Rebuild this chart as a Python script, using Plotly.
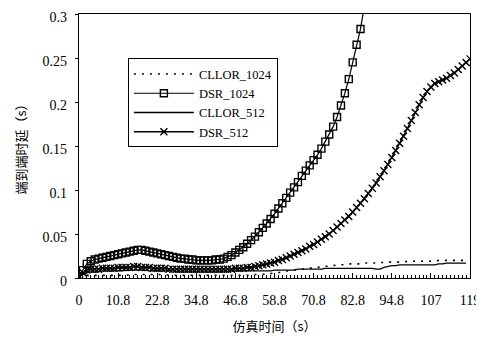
import plotly.graph_objects as go

# ---- data ----
tick_labels = ["0", "10.8", "22.8", "34.8", "46.8", "58.8", "70.8", "82.8", "94.8", "107", "119"]
tick_positions = [0, 10, 20, 30, 40, 50, 60, 70, 80, 90, 100]
y_ticks = [0, 0.05, 0.1, 0.15, 0.2, 0.25, 0.3]
y_tick_labels = ["0", "0.05", "0.1", "0.15", "0.2", "0.25", "0.3"]

dsr_1024 = [0.002, 0.009, 0.016, 0.019, 0.021, 0.022, 0.023, 0.024, 0.025, 0.026,
            0.027, 0.028, 0.029, 0.030, 0.031, 0.032, 0.032, 0.031, 0.030, 0.029,
            0.028, 0.027, 0.026, 0.025, 0.024, 0.023, 0.022, 0.022, 0.021, 0.021,
            0.020, 0.020, 0.020, 0.020, 0.020, 0.021, 0.021, 0.022, 0.024, 0.026,
            0.029, 0.032, 0.035, 0.039, 0.043, 0.047, 0.052, 0.057, 0.062, 0.067,
            0.073, 0.079, 0.085, 0.091, 0.097, 0.103, 0.109, 0.116, 0.122, 0.128,
            0.134, 0.140, 0.147, 0.155, 0.163, 0.172, 0.183, 0.196, 0.210, 0.226,
            0.245, 0.265, 0.283, 0.310]

dsr_512 = [0.002, 0.006, 0.009, 0.010, 0.010, 0.010, 0.011, 0.011, 0.011, 0.011,
           0.012, 0.012, 0.012, 0.012, 0.013, 0.013, 0.012, 0.012, 0.012, 0.011,
           0.011, 0.011, 0.011, 0.010, 0.010, 0.010, 0.010, 0.010, 0.010, 0.010,
           0.010, 0.010, 0.010, 0.010, 0.010, 0.010, 0.010, 0.010, 0.010, 0.010,
           0.011, 0.011, 0.011, 0.012, 0.012, 0.013, 0.014, 0.015, 0.016, 0.017,
           0.018, 0.020, 0.021, 0.023, 0.025, 0.027, 0.029, 0.031, 0.033, 0.036,
           0.038, 0.041, 0.044, 0.047, 0.050, 0.054, 0.058, 0.062, 0.066, 0.070,
           0.075, 0.080, 0.085, 0.090, 0.096, 0.102, 0.108, 0.115, 0.122, 0.129,
           0.137, 0.145, 0.153, 0.161, 0.170, 0.179, 0.188, 0.197, 0.205, 0.212,
           0.217, 0.221, 0.223, 0.225, 0.227, 0.230, 0.233, 0.237, 0.241, 0.245,
           0.249]

cllor_512 = [0.002, 0.004, 0.006, 0.007, 0.007, 0.007, 0.008, 0.008, 0.008, 0.008,
             0.008, 0.008, 0.009, 0.009, 0.009, 0.009, 0.009, 0.009, 0.008, 0.008,
             0.008, 0.008, 0.008, 0.008, 0.008, 0.007, 0.007, 0.007, 0.007, 0.007,
             0.007, 0.007, 0.007, 0.007, 0.007, 0.007, 0.007, 0.007, 0.007, 0.008,
             0.008, 0.008, 0.008, 0.008, 0.008, 0.008, 0.008, 0.008, 0.008, 0.008,
             0.009, 0.009, 0.009, 0.009, 0.009, 0.009, 0.010, 0.010, 0.010, 0.010,
             0.010, 0.010, 0.010, 0.011, 0.011, 0.011, 0.011, 0.011, 0.011, 0.011,
             0.011, 0.011, 0.011, 0.011, 0.011, 0.011, 0.010, 0.010, 0.012, 0.013,
             0.014, 0.014, 0.015, 0.015, 0.015, 0.015, 0.015, 0.015, 0.015, 0.015,
             0.015, 0.015, 0.016, 0.016, 0.017, 0.017, 0.017, 0.017, 0.017, 0.017]

cllor_1024 = [0.001, 0.002, 0.003, 0.003, 0.003, 0.003, 0.003, 0.003, 0.003, 0.003,
              0.003, 0.003, 0.003, 0.004, 0.004, 0.004, 0.004, 0.004, 0.004, 0.004,
              0.004, 0.004, 0.004, 0.003, 0.003, 0.003, 0.003, 0.003, 0.003, 0.003,
              0.003, 0.003, 0.003, 0.003, 0.003, 0.003, 0.003, 0.003, 0.003, 0.003,
              0.003, 0.003, 0.003, 0.003, 0.003, 0.004, 0.004, 0.004, 0.005, 0.005,
              0.006, 0.006, 0.007, 0.008, 0.008, 0.009, 0.010, 0.010, 0.011, 0.011,
              0.012, 0.012, 0.013, 0.013, 0.014, 0.014, 0.015, 0.015, 0.015, 0.016,
              0.016, 0.016, 0.016, 0.017, 0.017, 0.017, 0.017, 0.017, 0.018, 0.018,
              0.018, 0.018, 0.018, 0.018, 0.019, 0.019, 0.019, 0.019, 0.019, 0.019,
              0.019, 0.019, 0.020, 0.020, 0.020, 0.020, 0.020, 0.020, 0.020, 0.020]

SERIF = "'Liberation Serif', 'Times New Roman', 'DejaVu Serif', serif"
CJK = "'Noto Sans CJK SC', sans-serif"

fig = go.Figure()
fig.add_trace(go.Scatter(
    x=list(range(len(cllor_1024))), y=cllor_1024, name="CLLOR_1024", mode="lines",
    line=dict(color="black", width=1.6, dash="2px,6px")))
fig.add_trace(go.Scatter(
    x=list(range(len(dsr_1024))), y=dsr_1024, name="DSR_1024", mode="lines+markers",
    line=dict(color="black", width=1.2),
    marker=dict(symbol="square-open", size=7, color="black", line=dict(width=1.4, color="black"))))
fig.add_trace(go.Scatter(
    x=list(range(len(cllor_512))), y=cllor_512, name="CLLOR_512", mode="lines",
    line=dict(color="black", width=1.3)))
fig.add_trace(go.Scatter(
    x=list(range(len(dsr_512))), y=dsr_512, name="DSR_512", mode="lines+markers",
    line=dict(color="black", width=1.3),
    marker=dict(symbol="x-thin", size=7, color="black", line=dict(width=1.4, color="black"))))

# The page body adds an 8px margin, so the figure is sized 8px smaller and offset accordingly.
fig.update_layout(
    width=476, height=329,
    margin=dict(l=71, r=14, t=6, b=59),
    paper_bgcolor="white", plot_bgcolor="white",
    font=dict(family=SERIF, size=13, color="black"),
    showlegend=True,
    legend=dict(
        x=0.125, y=0.832, xanchor="left", yanchor="top",
        bgcolor="white", bordercolor="black", borderwidth=1,
        font=dict(family=SERIF, size=12.5, color="black"),
        itemwidth=60, tracegroupgap=0,
    ),
    xaxis=dict(
        range=[0, 100], tickmode="array", tickvals=tick_positions, ticktext=tick_labels,
        showgrid=False, zeroline=False, showline=True, linecolor="black", linewidth=1.2,
        mirror=True, ticks="inside", ticklen=5, tickcolor="black",
        minor=dict(dtick=1, ticks="inside", ticklen=3, tickcolor="black", showgrid=False),
        ticklabelstandoff=9, automargin=False, ticklabeloverflow="allow",
        tickfont=dict(family=SERIF, size=14),
        title=dict(text="仿真时间（s）", font=dict(family=CJK, size=13), standoff=14),
    ),
    yaxis=dict(
        range=[0, 0.3], tickmode="array", tickvals=y_ticks, ticktext=y_tick_labels,
        showgrid=False, zeroline=False, showline=True, linecolor="black", linewidth=1.2,
        mirror=True, ticks="outside", ticklen=3, tickcolor="black",
        ticklabelstandoff=5, ticklabelshift=3, automargin=False, ticklabeloverflow="allow",
        tickfont=dict(family=SERIF, size=14),
        title=dict(text="端到端时延（s）", font=dict(family=CJK, size=13), standoff=13),
    ),
)

fig.write_html("out.html")
